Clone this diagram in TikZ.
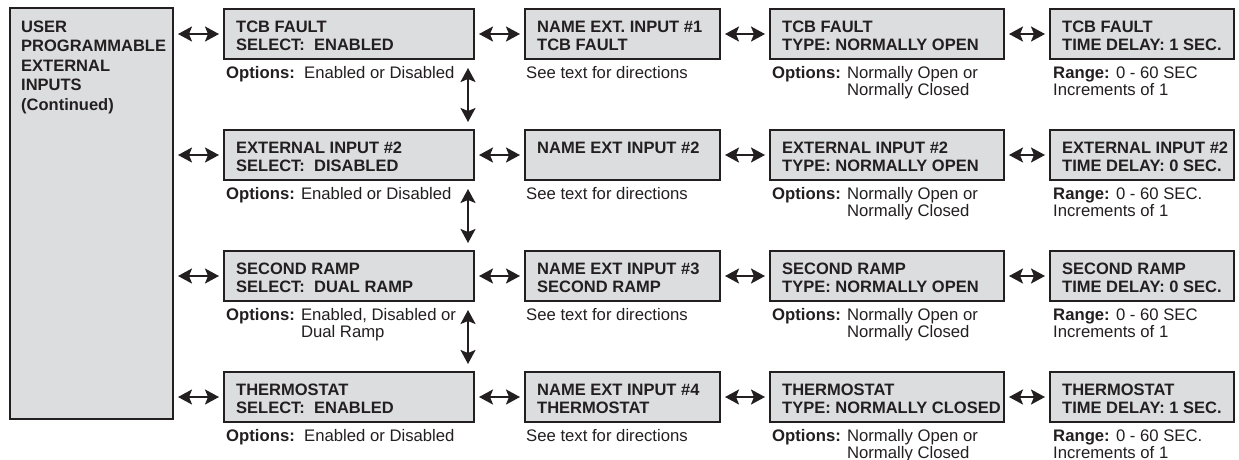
\documentclass[tikz,border=0pt]{standalone}
\usepackage{fontspec}
\setmainfont{Liberation Sans}
\usetikzlibrary{arrows.meta}
\definecolor{boxfill}{RGB}{220,221,222}
\definecolor{ink}{RGB}{35,31,32}
\newcommand\pbox[5]{%
  \node[box, minimum width=#4pt, minimum height=50pt] (#1) at (#2,#3) {};
  \node[btext] (#1t) at ([shift={(13,24)}]#1.north west) {\begin{tabular}[t]{@{}l@{}}#5\end{tabular}};}
\newcommand\pcap[3]{%
  \node[captext] (#1c) at ([shift={(#2,18.5)}]#1.south west) {\begin{tabular}[t]{@{}l@{}}#3\end{tabular}};}
\newcommand\opt{\textbf{Options:}}
\newcommand\optind{\hphantom{\textbf{Options:} }}
\begin{document}
\begin{tikzpicture}[x=1pt,y=-1pt,
  box/.style={draw=ink, fill=boxfill, line width=2pt, inner sep=0pt, anchor=north west},
  btext/.style={anchor=base west, inner sep=0pt, font=\fontsize{16.5}{18}\selectfont\bfseries, text=ink},
  captext/.style={anchor=base west, inner sep=0pt, font=\fontsize{16.7}{16}\selectfont, text=ink},
  dbl/.style={line width=2pt, draw=ink,
    {Stealth[length=14pt,width=15pt,inset=3pt]}-{Stealth[length=14pt,width=15pt,inset=3pt]},
    shorten <=4pt, shorten >=4pt},
  vdbl/.style={dbl, shorten <=8pt, shorten >=7pt}
]
\useasboundingbox (0,0) rectangle (1239,459);

% left box
\node[box, minimum width=163pt, minimum height=411pt] (left) at (9,7) {};
\node[anchor=base west, inner sep=0pt, font=\fontsize{16.5}{19.5}\selectfont\bfseries, text=ink] (leftt)
  at ([shift={(12,25)}]left.north west)
  {\begin{tabular}[t]{@{}l@{}}USER\\PROGRAMMABLE\\EXTERNAL\\INPUTS\\(Continued)\end{tabular}};

% row 1
\pbox{r1c1}{223}{8}{250}{TCB FAULT\\SELECT:\ \ ENABLED}
\pbox{r1c2}{524}{8}{195}{NAME EXT. INPUT \#1\\TCB FAULT}
\pbox{r1c3}{769}{8}{234}{TCB FAULT\\TYPE: NORMALLY OPEN}
\pbox{r1c4}{1049}{8}{184}{TCB FAULT\\TIME DELAY: 1 SEC.}
\pcap{r1c1}{3}{\opt\ \ Enabled or Disabled}
\pcap{r1c2}{2}{See text for directions}
\pcap{r1c3}{3}{\opt{} Normally Open or\\\optind Normally Closed}
\pcap{r1c4}{4}{\textbf{Range:} 0 - 60 SEC\\Increments of 1}

% row 2
\pbox{r2c1}{223}{129}{250}{EXTERNAL INPUT \#2\\SELECT:\ \ DISABLED}
\pbox{r2c2}{524}{129}{195}{NAME EXT INPUT \#2}
\pbox{r2c3}{769}{129}{234}{EXTERNAL INPUT \#2\\TYPE: NORMALLY OPEN}
\pbox{r2c4}{1049}{129}{184}{EXTERNAL INPUT \#2\\TIME DELAY: 0 SEC.}
\pcap{r2c1}{3}{\opt{} Enabled or Disabled}
\pcap{r2c2}{2}{See text for directions}
\pcap{r2c3}{3}{\opt{} Normally Open or\\\optind Normally Closed}
\pcap{r2c4}{4}{\textbf{Range:} 0 - 60 SEC.\\Increments of 1}

% row 3
\pbox{r3c1}{223}{250}{250}{SECOND RAMP\\SELECT:\ \ DUAL RAMP}
\pbox{r3c2}{524}{250}{195}{NAME EXT INPUT \#3\\SECOND RAMP}
\pbox{r3c3}{769}{250}{234}{SECOND RAMP\\TYPE: NORMALLY OPEN}
\pbox{r3c4}{1049}{250}{184}{SECOND RAMP\\TIME DELAY: 0 SEC.}
\pcap{r3c1}{3}{\opt{} Enabled, Disabled or\\\optind Dual Ramp}
\pcap{r3c2}{2}{See text for directions}
\pcap{r3c3}{3}{\opt{} Normally Open or\\\optind Normally Closed}
\pcap{r3c4}{4}{\textbf{Range:} 0 - 60 SEC\\Increments of 1}

% row 4
\pbox{r4c1}{223}{371}{250}{THERMOSTAT\\SELECT:\ \ ENABLED}
\pbox{r4c2}{524}{371}{195}{NAME EXT INPUT \#4\\THERMOSTAT}
\pbox{r4c3}{769}{371}{234}{THERMOSTAT\\TYPE: NORMALLY CLOSED}
\pbox{r4c4}{1049}{371}{184}{THERMOSTAT\\TIME DELAY: 1 SEC.}
\pcap{r4c1}{3}{\opt\ \ Enabled or Disabled}
\pcap{r4c2}{2}{See text for directions}
\pcap{r4c3}{3}{\opt{} Normally Open or\\\optind Normally Closed}
\pcap{r4c4}{4}{\textbf{Range:} 0 - 60 SEC.\\Increments of 1}

% horizontal arrows
\foreach \r in {1,2,3,4}{
  \draw[dbl] (left.east |- r\r c1.west) -- (r\r c1.west);
  \draw[dbl] (r\r c1.east) -- (r\r c2.west);
  \draw[dbl] (r\r c2.east) -- (r\r c3.west);
  \draw[dbl] (r\r c3.east) -- (r\r c4.west);
}
% vertical arrows
\draw[vdbl] ([xshift=-7pt]r1c1.south east) -- ([xshift=-7pt]r2c1.north east);
\draw[vdbl] ([xshift=-7pt]r2c1.south east) -- ([xshift=-7pt]r3c1.north east);
\draw[vdbl] ([xshift=-7pt]r3c1.south east) -- ([xshift=-7pt]r4c1.north east);
\end{tikzpicture}
\end{document}
